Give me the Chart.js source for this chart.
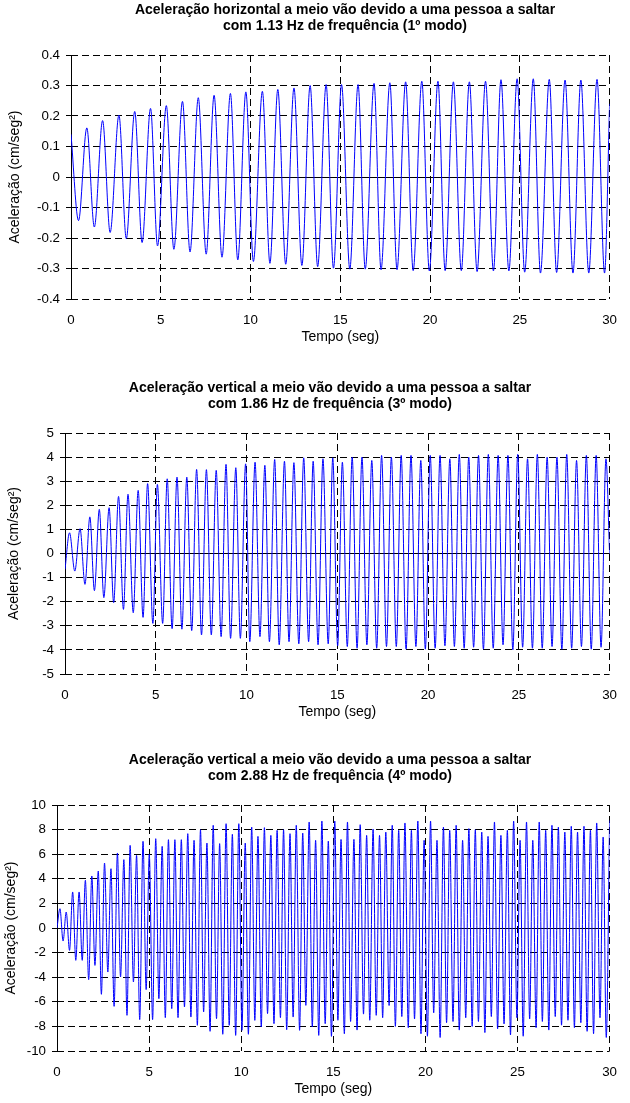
<!DOCTYPE html>
<html>
<head>
<meta charset="utf-8">
<script src="https://cdn.jsdelivr.net/npm/chart.js@4.4.1/dist/chart.umd.min.js"></script>
<style>
  body { margin: 0; background: #fff; width: 630px; height: 1103px; position: relative; overflow: hidden; }
  canvas { position: absolute; left: 0; }
</style>
</head>
<body>
<canvas id="chart1" width="630" height="349" style="top:0px"></canvas>
<canvas id="chart2" width="630" height="346" style="top:378px"></canvas>
<canvas id="chart3" width="630" height="351" style="top:750px"></canvas>
<script>
// x axis (seconds) shared by the three panels
const xTicks = [0, 5, 10, 15, 20, 25, 30];

// panel 1 - horizontal, 1.13 Hz (peaks / troughs)
const title1 = ['Aceleração horizontal a meio vão devido a uma pessoa a saltar', 'com 1.13 Hz de frequência (1º modo)'];
const yTicks1 = [-0.4, -0.3, -0.2, -0.1, 0, 0.1, 0.2, 0.3, 0.4];
const time1 = [0.00,0.42,0.88,1.30,1.76,2.18,2.67,3.08,3.55,3.96,4.43,4.82,5.31,5.73,6.21,6.63,7.09,7.53,7.97,8.41,
  8.88,9.29,9.74,10.16,10.66,11.08,11.52,11.96,12.42,12.86,13.32,13.74,14.21,14.62,15.07,15.53,15.99,16.39,16.88,17.27,
  17.76,18.16,18.64,19.06,19.54,19.96,20.44,20.84,21.30,21.74,22.19,22.62,23.09,23.53,23.95,24.39,24.85,25.27,25.75,26.15,
  26.64,27.05,27.52,27.96,28.40,28.84,29.30,29.72,30.00];
const accel1 = [0.14,-0.143,0.161,-0.164,0.185,-0.182,0.203,-0.202,0.215,-0.215,0.225,-0.226,0.234,-0.237,0.248,-0.246,0.26,-0.253,0.268,-0.263,
  0.274,-0.272,0.279,-0.277,0.281,-0.283,0.287,-0.286,0.292,-0.29,0.30,-0.294,0.303,-0.299,0.303,-0.302,0.303,-0.302,0.307,-0.304,
  0.309,-0.304,0.312,-0.307,0.314,-0.308,0.314,-0.307,0.312,-0.307,0.312,-0.31,0.314,-0.308,0.319,-0.308,0.322,-0.312,0.322,-0.315,
  0.32,-0.313,0.318,-0.315,0.318,-0.315,0.32,-0.315,0.24];

// panel 2 - vertical, 1.86 Hz
const title2 = ['Aceleração vertical a meio vão devido a uma pessoa a saltar', 'com 1.86 Hz de frequência (3º modo)'];
const yTicks2 = [-5, -4, -3, -2, -1, 0, 1, 2, 3, 4, 5];
const time2 = [0.00,0.25,0.54,0.83,1.10,1.37,1.62,1.89,2.14,2.43,
  2.68,2.95,3.22,3.47,3.76,4.03,4.30,4.55,4.84,5.09,
  5.38,5.63,5.90,6.17,6.44,6.71,6.98,7.25,7.52,7.79,
  8.06,8.33,8.60,8.87,9.12,9.41,9.66,9.95,10.18,10.47,
  10.74,11.01,11.26,11.55,11.80,12.09,12.34,12.61,12.88,13.15,
  13.42,13.67,13.94,14.21,14.50,14.75,15.02,15.28,15.55,15.82,
  16.09,16.36,16.63,16.90,17.17,17.44,17.71,17.98,18.25,18.52,
  18.79,19.06,19.33,19.60,19.85,20.12,20.39,20.66,20.93,21.20,
  21.45,21.72,21.99,22.24,22.51,22.78,23.05,23.32,23.59,23.86,
  24.13,24.40,24.67,24.94,25.21,25.48,25.75,26.02,26.29,26.56,
  26.83,27.10,27.37,27.64,27.91,28.18,28.45,28.72,28.99,29.26,
  29.53,29.80,30.00];
const accel2 = [-0.66,0.86,-0.73,1.03,-1.28,1.52,-1.54,1.83,-1.83,1.90,
  -2.04,2.37,-2.32,2.46,-2.46,2.62,-2.65,2.90,-2.90,2.87,
  -2.90,3.10,-3.12,3.17,-3.14,3.17,-3.20,3.49,-3.38,3.48,
  -3.38,3.45,-3.45,3.70,-3.52,3.56,-3.52,3.72,-3.66,3.79,
  -3.45,3.66,-3.66,3.90,-3.79,3.83,-3.66,3.77,-3.75,3.97,
  -3.66,3.83,-3.79,3.93,-3.75,3.97,-3.83,3.79,-3.86,4.0,
  -3.93,4.0,-3.79,3.86,-3.93,4.07,-3.86,4.0,-3.86,4.07,
  -3.97,4.07,-3.86,3.86,-3.97,4.07,-3.93,4.07,-3.83,3.93,
  -3.86,4.11,-3.93,4.0,-3.89,4.07,-3.97,4.11,-3.93,4.07,
  -3.79,4.07,-4.0,4.11,-3.89,3.93,-3.93,4.11,-3.93,4.0,
  -3.86,4.0,-3.97,4.11,-3.93,3.86,-3.86,4.07,-3.97,4.07,
  -3.89,3.93,0.0];

// panel 3 - vertical, 2.88 Hz
const title3 = ['Aceleração vertical a meio vão devido a uma pessoa a saltar', 'com 2.88 Hz de frequência (4º modo)'];
const yTicks3 = [-10, -8, -6, -4, -2, 0, 2, 4, 6, 8, 10];
const time3 = [0.00,
  0.16,0.33,0.50,0.68,0.85,1.02,1.20,1.37,1.54,1.72,
  1.89,2.06,2.24,2.41,2.58,2.76,2.93,3.10,3.28,3.45,
  3.63,3.80,3.97,4.15,4.32,4.49,4.67,4.84,5.01,5.19,
  5.36,5.53,5.71,5.88,6.05,6.23,6.40,6.57,6.75,6.92,
  7.10,7.27,7.44,7.62,7.79,7.96,8.14,8.31,8.48,8.66,
  8.83,9.00,9.18,9.35,9.52,9.70,9.87,10.04,10.22,10.39,
  10.57,10.74,10.91,11.09,11.26,11.43,11.61,11.78,11.95,12.13,
  12.30,12.47,12.65,12.82,12.99,13.17,13.34,13.51,13.69,13.86,
  14.04,14.21,14.38,14.56,14.73,14.90,15.08,15.25,15.42,15.60,
  15.77,15.94,16.12,16.29,16.46,16.64,16.81,16.98,17.16,17.33,
  17.51,17.68,17.85,18.03,18.20,18.37,18.55,18.72,18.89,19.07,
  19.24,19.41,19.59,19.76,19.93,20.11,20.28,20.45,20.63,20.80,
  20.98,21.15,21.32,21.50,21.67,21.84,22.02,22.19,22.36,22.54,
  22.71,22.88,23.06,23.23,23.40,23.58,23.75,23.92,24.10,24.27,
  24.45,24.62,24.79,24.97,25.14,25.31,25.49,25.66,25.83,26.01,
  26.18,26.35,26.53,26.70,26.87,27.05,27.22,27.39,27.57,27.74,
  27.92,28.09,28.26,28.44,28.61,28.78,28.96,29.13,29.30,29.48,
  29.65,29.82,30.00];
const accel3 = [0.0,
  1.57,-1.06,1.30,-1.82,2.93,-2.63,2.93,-2.63,3.88,-4.2,
  4.23,-3.04,4.63,-5.39,5.28,-3.58,4.82,-6.37,6.10,-3.98,
  5.56,-7.10,6.72,-4.39,5.91,-7.45,7.05,-5.01,5.99,-7.45,
  7.26,-5.75,6.64,-7.29,7.18,-6.56,7.18,-7.29,7.18,-6.42,
  7.67,-7.24,7.13,-7.91,7.99,-6.83,6.91,-8.40,8.35,-7.37,
  6.86,-8.64,8.48,-7.91,7.62,-8.73,8.48,-8.32,6.91,-8.64,
  8.21,-7.51,7.45,-8.05,8.16,-6.96,7.53,-7.78,7.94,-7.29,
  7.99,-8.27,7.67,-7.24,8.35,-8.32,7.72,-6.29,8.62,-8.05,
  7.13,-8.73,8.70,-7.78,7.07,-8.81,8.70,-7.5,
  7.2,-8.6,8.62,-7.6,7.21,-8.3,8.40,-7.0,7.53,-7.5,
  8.05,-7.1,7.53,-7.3,7.80,-6.3,8.35,-8.0,7.94,-7.2,
  8.54,-8.1,7.94,-7.4,8.70,-8.6,7.13,-8.8,8.70,-6.9,
  7.13,-8.9,8.21,-7.7,7.94,-7.6,8.35,-8.3,7.13,-7.3,
  8.08,-8.0,7.99,-7.6,7.80,-8.5,7.45,-7.2,8.62,-8.2,
  7.53,-7.8,7.94,-8.7,8.70,-7.3,7.13,-8.8,8.62,-7.4,
  7.13,-8.1,8.62,-7.6,7.94,-8.3,8.35,-7.2,8.21,-7.9,
  7.80,-7.5,8.27,-8.1,7.80,-7.7,8.27,-8.4,7.94,-8.6,
  8.54,-7.3,7.40,-8.9,8.75];

Chart.defaults.font.family = 'Arial, "Liberation Sans", Helvetica, sans-serif';
Chart.defaults.font.size = 13.33;
Chart.defaults.color = '#000';

// solid y axis and zero line, placed with the chart's own scales
const axisLines = {
  id: 'axisLines',
  beforeDatasetsDraw(chart) {
    const { ctx, chartArea: a, scales: { x, y } } = chart;
    const y0 = Math.round(y.getPixelForValue(0) - 0.5) + 0.5;
    const x0 = Math.round(x.getPixelForValue(0) - 0.5) + 0.5;
    ctx.save();
    ctx.strokeStyle = '#000';
    ctx.lineWidth = 1;
    ctx.beginPath();
    ctx.moveTo(a.left, y0);
    ctx.lineTo(a.right, y0);
    ctx.moveTo(x0, a.top);
    ctx.lineTo(x0, a.bottom);
    ctx.stroke();
    ctx.restore();
  }
};

// the title sits centred on the chart object, not on the plot area
function titleAt(center) {
  return {
    id: 'titleAt',
    afterLayout(chart) {
      const t = chart.titleBlock;
      const w = t.right - t.left;
      t.left = center - w / 2;
      t.right = center + w / 2;
    }
  };
}

function drawPanel(id, title, times, values, yTicks, axisWidth, yTitlePad, titleCenter) {
  return new Chart(document.getElementById(id), {
    type: 'line',
    data: {
      datasets: [{
        data: times.map((t, i) => ({ x: t, y: values[i] })),
        borderColor: '#0000ff',
        borderWidth: 1,
        pointRadius: 0,
        fill: false,
        cubicInterpolationMode: 'monotone'
      }]
    },
    options: {
      responsive: false,
      animation: false,
      devicePixelRatio: 1,
      layout: { padding: { left: 0, right: 11, top: 0, bottom: 0 } },
      plugins: {
        legend: { display: false },
        tooltip: { enabled: false },
        title: {
          display: true,
          text: title,
          fullSize: false,
          font: { size: 14, weight: 'bold', lineHeight: 16 / 14 },
          padding: { top: 2, bottom: 21 }
        }
      },
      scales: {
        x: {
          type: 'linear',
          min: 0,
          max: 30,
          afterBuildTicks: s => { s.ticks = xTicks.map(v => ({ value: v })); },
          afterFit: s => { s.height = 50; },
          ticks: { padding: 13, maxRotation: 0, autoSkip: false },
          grid: { color: '#000', lineWidth: 1, drawTicks: false },
          border: { display: false, dash: [7, 4] },
          title: { display: true, text: 'Tempo (seg)', font: { size: 14, lineHeight: 16 / 14 }, padding: { top: 0, bottom: 4 } }
        },
        y: {
          type: 'linear',
          min: yTicks[0],
          max: yTicks[yTicks.length - 1],
          afterBuildTicks: s => { s.ticks = yTicks.map(v => ({ value: v })); },
          afterFit: s => { s.width = axisWidth; },
          ticks: { padding: 6, callback: v => String(v) },
          grid: { color: '#000', lineWidth: 1, drawTicks: true, tickLength: 5, tickColor: '#000' },
          border: { display: false, dash: [7, 4] },
          title: { display: true, text: 'Aceleração (cm/seg²)', font: { size: 14, lineHeight: 16 / 14 }, padding: { top: yTitlePad, bottom: 0 } }
        }
      }
    },
    plugins: [axisLines, titleAt(titleCenter)]
  });
}

drawPanel('chart1', title1, time1, accel1, yTicks1, 71, 7, 345);
drawPanel('chart2', title2, time2, accel2, yTicks2, 65, 6, 330);
drawPanel('chart3', title3, time3, accel3, yTicks3, 57, 3, 330);
</script>
</body>
</html>
